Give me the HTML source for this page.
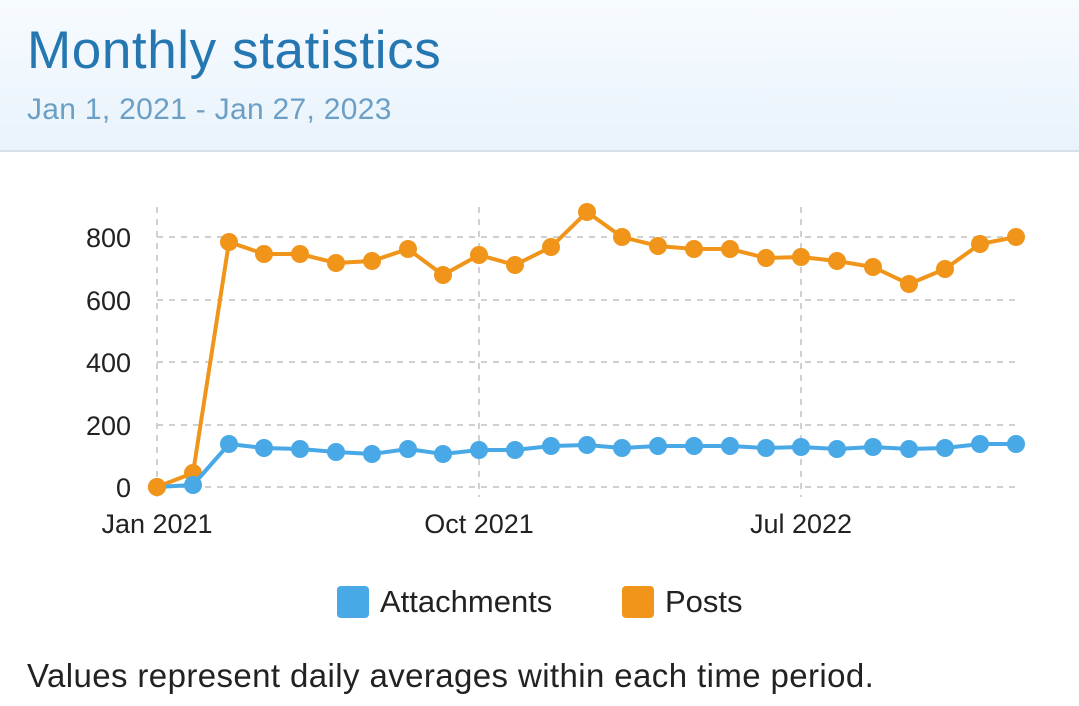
<!DOCTYPE html>
<html><head><meta charset="utf-8"><style>
html,body{margin:0;padding:0;width:1079px;height:706px;overflow:hidden;background:#fff;font-family:"Liberation Sans",sans-serif;}
.hdr{position:absolute;left:0;top:0;width:1079px;height:150px;background:linear-gradient(#f7fbfe,#e9f3fc);border-bottom:2px solid #d8e0e8;}
.t{position:absolute;left:27px;top:20px;font-size:53px;letter-spacing:0.6px;color:#2577b1;white-space:nowrap;}
.d{position:absolute;left:27px;top:93px;font-size:30px;letter-spacing:0.3px;color:#6b9fc6;white-space:nowrap;}
.f{position:absolute;left:27px;top:657px;font-size:33px;letter-spacing:0.4px;color:#222;white-space:nowrap;}
</style></head><body>
<div class="hdr"><div class="t">Monthly statistics</div><div class="d">Jan 1, 2021 - Jan 27, 2023</div></div>
<svg width="1079" height="706" style="position:absolute;left:0;top:0">
<g stroke="#d0d0d0" stroke-width="2" stroke-dasharray="6,6">
<line x1="157" y1="237" x2="1016" y2="237"/><line x1="157" y1="300" x2="1016" y2="300"/><line x1="157" y1="362" x2="1016" y2="362"/><line x1="157" y1="425" x2="1016" y2="425"/><line x1="157" y1="487" x2="1016" y2="487"/>
<line x1="157" y1="207" x2="157" y2="497"/><line x1="479" y1="207" x2="479" y2="497"/><line x1="801" y1="207" x2="801" y2="497"/>
</g>
<g font-size="27" fill="#222" text-anchor="end"><text x="131" y="247">800</text><text x="131" y="310">600</text><text x="131" y="372">400</text><text x="131" y="435">200</text><text x="131" y="497">0</text></g>
<g font-size="27" fill="#222" text-anchor="middle"><text x="157" y="533">Jan 2021</text><text x="479" y="533">Oct 2021</text><text x="801" y="533">Jul 2022</text></g>
<polyline fill="none" stroke="#f0951a" stroke-width="4" points="157,487 193,473 229,242 264,254 300,254 336,263 372,261 408,249 443,275 479,255 515,265 551,247 587,212 622,237 658,246 694,249 730,249 766,258 801,257 837,261 873,267 909,284 945,269 980,244 1016,237"/>
<g fill="#f0951a"><circle cx="157" cy="487" r="9"/><circle cx="193" cy="473" r="9"/><circle cx="229" cy="242" r="9"/><circle cx="264" cy="254" r="9"/><circle cx="300" cy="254" r="9"/><circle cx="336" cy="263" r="9"/><circle cx="372" cy="261" r="9"/><circle cx="408" cy="249" r="9"/><circle cx="443" cy="275" r="9"/><circle cx="479" cy="255" r="9"/><circle cx="515" cy="265" r="9"/><circle cx="551" cy="247" r="9"/><circle cx="587" cy="212" r="9"/><circle cx="622" cy="237" r="9"/><circle cx="658" cy="246" r="9"/><circle cx="694" cy="249" r="9"/><circle cx="730" cy="249" r="9"/><circle cx="766" cy="258" r="9"/><circle cx="801" cy="257" r="9"/><circle cx="837" cy="261" r="9"/><circle cx="873" cy="267" r="9"/><circle cx="909" cy="284" r="9"/><circle cx="945" cy="269" r="9"/><circle cx="980" cy="244" r="9"/><circle cx="1016" cy="237" r="9"/></g>
<polyline fill="none" stroke="#48a9e6" stroke-width="4" points="157,487 193,485 229,444 264,448 300,449 336,452 372,454 408,449 443,454 479,450 515,450 551,446 587,445 622,448 658,446 694,446 730,446 766,448 801,447 837,449 873,447 909,449 945,448 980,444 1016,444"/>
<g fill="#48a9e6"><circle cx="193" cy="485" r="9"/><circle cx="229" cy="444" r="9"/><circle cx="264" cy="448" r="9"/><circle cx="300" cy="449" r="9"/><circle cx="336" cy="452" r="9"/><circle cx="372" cy="454" r="9"/><circle cx="408" cy="449" r="9"/><circle cx="443" cy="454" r="9"/><circle cx="479" cy="450" r="9"/><circle cx="515" cy="450" r="9"/><circle cx="551" cy="446" r="9"/><circle cx="587" cy="445" r="9"/><circle cx="622" cy="448" r="9"/><circle cx="658" cy="446" r="9"/><circle cx="694" cy="446" r="9"/><circle cx="730" cy="446" r="9"/><circle cx="766" cy="448" r="9"/><circle cx="801" cy="447" r="9"/><circle cx="837" cy="449" r="9"/><circle cx="873" cy="447" r="9"/><circle cx="909" cy="449" r="9"/><circle cx="945" cy="448" r="9"/><circle cx="980" cy="444" r="9"/><circle cx="1016" cy="444" r="9"/></g>
<circle cx="157" cy="487" r="9" fill="#f0951a"/>
<rect x="337" y="586" width="32" height="32" rx="4" fill="#48a9e6"/>
<text x="380" y="612" font-size="31" fill="#222">Attachments</text>
<rect x="622" y="586" width="32" height="32" rx="4" fill="#f0951a"/>
<text x="665" y="612" font-size="31" fill="#222">Posts</text>
</svg>
<div class="f">Values represent daily averages within each time period.</div>
</body></html>
